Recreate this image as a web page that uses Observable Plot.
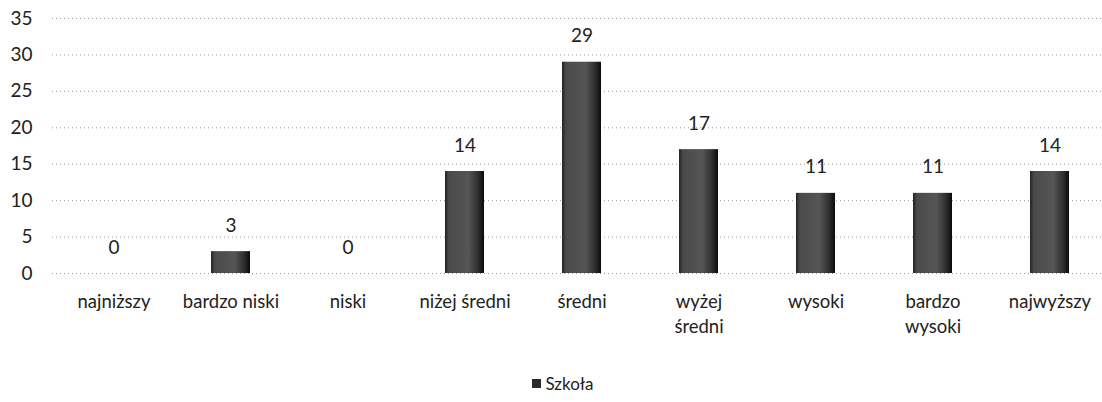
<!DOCTYPE html>
<html>
<head>
<meta charset="utf-8">
<script src="https://cdn.jsdelivr.net/npm/d3@7"></script>
<script src="https://cdn.jsdelivr.net/npm/@observablehq/plot@0.6"></script>
<style>
  html, body { margin: 0; padding: 0; background: #fff; }
  #chart { width: 1102px; height: 350px; }
  #legend { width: 1102px; height: 66px; display: flex; justify-content: center; align-items: center;
    box-sizing: border-box; padding-left: 24px;
    font-family: Lato, "Open Sans", sans-serif; font-size: 17px; color: #222; }
  #legend .sw { display: inline-block; width: 9px; height: 9px; background: #2a2a2a; margin-right: 4px; }
</style>
</head>
<body>
<div id="chart"></div>
<div id="legend"><span class="sw"></span><span id="legend-label"></span></div>
<script>
const categories = ["najniższy", "bardzo niski", "niski", "niżej średni", "średni", "wyżej średni", "wysoki", "bardzo wysoki", "najwyższy"];
const tickLabels = ["najniższy", "bardzo niski", "niski", "niżej średni", "średni", "wyżej\nśredni", "wysoki", "bardzo\nwysoki", "najwyższy"];
const values = [0, 3, 0, 14, 29, 17, 11, 11, 14];
const yTicks = [0, 5, 10, 15, 20, 25, 30, 35];
const seriesName = "Szkoła";

const data = categories.map((c, i) => ({category: c, value: values[i]}));
const labelOf = new Map(categories.map((c, i) => [c, tickLabels[i]]));

const font = "Lato, 'Open Sans', sans-serif";

const plot = Plot.plot({
  width: 1102,
  height: 350,
  marginLeft: 52,
  marginRight: 0,
  marginTop: 18,
  marginBottom: 77,
  style: {fontFamily: font, color: "#222", background: "#fff"},
  x: {domain: categories, range: [55.5, 1108.5], paddingInner: 0.665, paddingOuter: 0.3325, label: null},
  y: {domain: [0, 35], label: null},
  marks: [
    Plot.gridY(yTicks, {stroke: "#999", strokeOpacity: 1, strokeDasharray: "1,3", strokeWidth: 1}),
    Plot.barY(data, {x: "category", y: "value", fill: "url(#barGrad)"}),
    Plot.text(data, {x: "category", y: "value", text: d => String(d.value), dy: -26, fontSize: 19, fill: "#222"}),
    Plot.axisY(yTicks, {tickSize: 0, tickPadding: 20, fontSize: 19, fill: "#222"}),
    Plot.axisX({tickSize: 0, tickPadding: 17, fontSize: 18.5, fill: "#222", tickFormat: d => labelOf.get(d), lineHeight: 1.35})
  ]
});

const defs = document.createElementNS("http://www.w3.org/2000/svg", "defs");
defs.innerHTML = `<linearGradient id="barGrad" x1="0" x2="1" y1="0" y2="0">
  <stop offset="0" stop-color="#222"/>
  <stop offset="0.1" stop-color="#4a4a4a"/>
  <stop offset="0.6" stop-color="#555"/>
  <stop offset="0.85" stop-color="#2e2e2e"/>
  <stop offset="1" stop-color="#0a0a0a"/>
</linearGradient>`;
plot.insertBefore(defs, plot.firstChild);

document.getElementById("chart").appendChild(plot);
document.getElementById("legend-label").textContent = seriesName;
</script>
</body>
</html>
